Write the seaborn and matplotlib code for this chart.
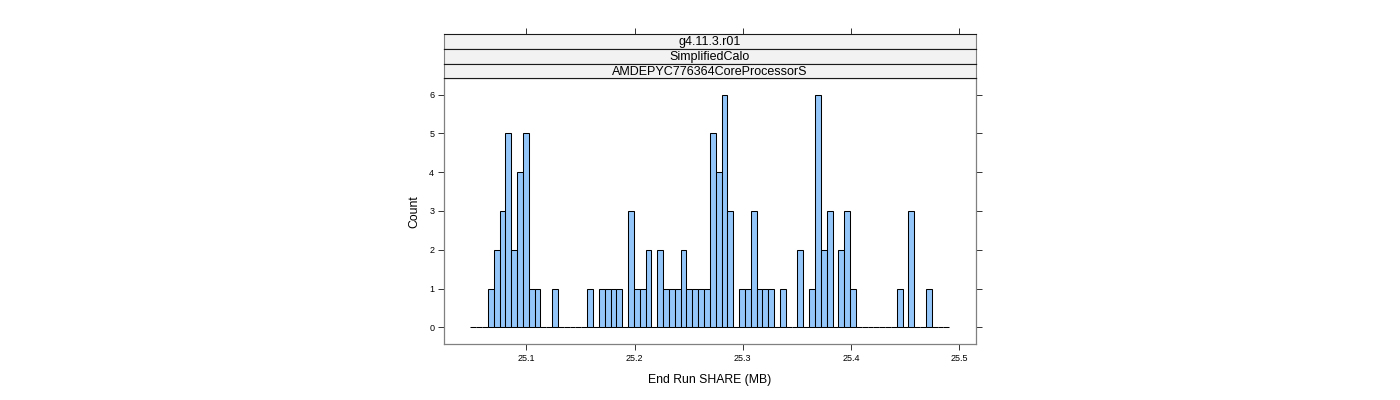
"""
Lattice-style histogram of end-of-run SHARE memory
"""

import numpy as np
import pandas as pd
import matplotlib
matplotlib.use('Agg')
import matplotlib.pyplot as plt
import seaborn as sns

# Histogram counts (82 equal bins)
bin_start = 25.0483
bin_width = 0.005396
counts = [0, 0, 0, 1, 2, 3, 5, 2, 4, 5,
          1, 1, 0, 0, 1, 0, 0, 0, 0, 0,
          1, 0, 1, 1, 1, 1, 0, 3, 1, 1,
          2, 0, 2, 1, 1, 1, 2, 1, 1, 1,
          1, 5, 4, 6, 3, 0, 1, 1, 3, 1,
          1, 1, 0, 1, 0, 0, 2, 0, 1, 6,
          2, 3, 0, 2, 3, 1, 0, 0, 0, 0,
          0, 0, 0, 1, 0, 3, 0, 0, 1, 0,
          0, 0]

strip_labels = ["g4.11.3.r01", "SimplifiedCalo", "AMDEPYC776364CoreProcessorS"]
x_ticks = [25.1, 25.2, 25.3, 25.4, 25.5]
y_ticks = [0, 1, 2, 3, 4, 5, 6]
x_label = "End Run SHARE (MB)"
y_label = "Count"

sns.set_style("white")
plt.rcParams['font.family'] = ['Liberation Sans', 'DejaVu Sans']
plt.rcParams['text.color'] = 'black'
plt.rcParams['axes.labelcolor'] = 'black'
plt.rcParams['xtick.labelcolor'] = 'black'
plt.rcParams['ytick.labelcolor'] = 'black'

W, H = 1400, 400


def px_rect(x0, y0, x1, y1):
    """Convert a pixel box (top-left origin) to figure fractions."""
    return [x0 / W, 1 - y1 / H, (x1 - x0) / W, (y1 - y0) / H]


edges = bin_start + bin_width * np.arange(len(counts) + 1)
df = pd.DataFrame({'share': edges[:-1] + bin_width / 2, 'n': counts})

fig = plt.figure(figsize=(W / 100, H / 100), dpi=100)
ax = fig.add_axes(px_rect(444, 78.3, 976, 344))

sns.histplot(data=df, x='share', weights='n', bins=edges.tolist(), ax=ax,
             color='#94C6FA', edgecolor='black', linewidth=0.75, alpha=1)

ax.set_xlim(25.024, 25.5154)
ax.set_ylim(-0.43, 6.42)
ax.set_xticks(x_ticks)
ax.set_xticklabels([f"{t:.1f}" for t in x_ticks])
ax.set_yticks(y_ticks)
ax.tick_params(axis='both', direction='out', length=4, width=0.7,
               color='#333333', labelsize=6.5, pad=3)
ax.tick_params(axis='y', right=True, labelright=False, left=True)
ax.tick_params(axis='x', bottom=True, top=False)
for sp in ax.spines.values():
    sp.set_color('#808080')
    sp.set_linewidth(0.9)
ax.set_xlabel(x_label, fontsize=8.8, labelpad=8)
ax.set_ylabel(y_label, fontsize=8.8, labelpad=6)

# Strips stacked above the panel, outermost first
strip_h = (78.3 - 34.3) / len(strip_labels)
for i, lab in enumerate(strip_labels):
    y0 = 34.3 + i * strip_h
    sax = fig.add_axes(px_rect(444, y0, 976, y0 + strip_h), sharex=ax)
    sax.set_facecolor('#F2F2F2')
    sax.set_ylim(0, 1)
    sax.text(0.5, 0.45, lab, transform=sax.transAxes, ha='center',
             va='center', fontsize=9)
    for sp in sax.spines.values():
        sp.set_color('#1a1a1a')
        sp.set_linewidth(0.8)
    sax.spines['left'].set_color('#808080')
    sax.spines['right'].set_color('#808080')
    sax.set_yticks([])
    sax.tick_params(axis='x', bottom=False, labelbottom=False,
                    top=(i == 0), labeltop=False, direction='out',
                    length=4, width=0.7, color='#333333')

fig.savefig('out.png', dpi=100)
